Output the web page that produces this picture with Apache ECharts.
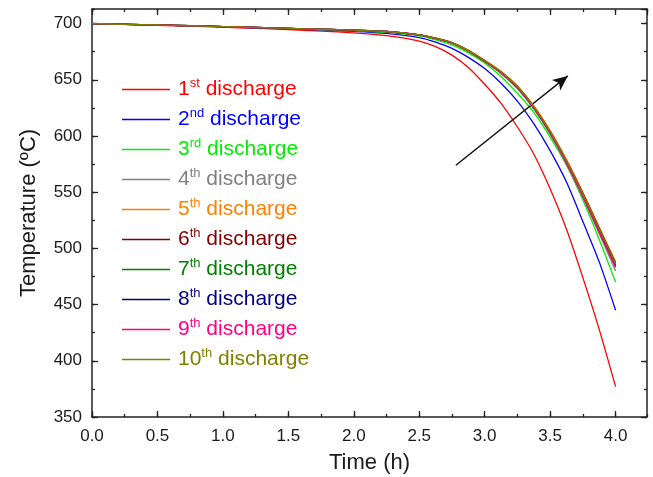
<!DOCTYPE html>
<html>
<head>
<meta charset="utf-8">
<script src="https://cdn.jsdelivr.net/npm/echarts@6/dist/echarts.min.js"></script>
<style>
html,body{margin:0;padding:0;background:#fff;}
#chart{width:653px;height:477px;}
</style>
</head>
<body>
<div id="chart"></div>
<script>
const times = [0,0.25,0.5,0.75,1.0,1.25,1.5,1.75,2.0,2.25,2.5,2.625,2.75,2.875,3.0,3.125,3.25,3.375,3.5,3.625,3.75,3.875,4.0];
const seriesNames = ['1st discharge','2nd discharge','3rd discharge','4th discharge','5th discharge','6th discharge','7th discharge','8th discharge','9th discharge','10th discharge'];
const seriesColors = ['#ff0000','#0000ff','#00ee00','#808080','#ff8000','#800000','#008000','#000080','#ff0080','#808000'];
const d1  = [700,699.3,698.5,697.7,696.8,695.8,694.7,693.4,691.8,689.3,684.5,679.5,672,661,646,629,608,584,553,517,474,428,377];
const d2  = [700,699.4,698.7,698.0,697.2,696.3,695.4,694.4,693.2,691.3,687.5,683.5,678,670,660,647,631,611,587,559,524,488,445];
const d3  = [700,699.4,698.8,698.1,697.3,696.5,695.6,694.7,693.7,692.2,689,685.5,681,674,665,653,638,621,599,574,543,508,470];
const d4  = [700,699.4,698.8,698.1,697.4,696.6,695.8,695.0,694.1,692.8,689.7,686.5,682.5,675.5,666,655.5,642,624,601.5,575,545,513,480];
const d5  = [700,699.4,698.8,698.1,697.4,696.6,695.8,695.0,694.2,693.0,690.1,687.2,683.2,676.5,667.5,657.5,644.5,627,605,579,550,519,488];
const d6  = [700,699.4,698.8,698.1,697.4,696.6,695.8,695.0,694.2,693.0,690,687,683,676,667,657,644,626,604,578,549,518,487];
const d7  = [700,699.4,698.8,698.1,697.4,696.6,695.8,695.0,694.2,693.0,690,686.9,682.8,675.8,666.5,656.5,643.5,625.5,603.5,577,547.5,516,485];
const d8  = [700,699.4,698.8,698.1,697.4,696.6,695.8,695.0,694.2,693.0,689.9,686.8,682.8,675.7,666.5,656.5,643,625,603,576.5,547,515,484];
const d9  = [700,699.4,698.8,698.1,697.4,696.6,695.8,695.0,694.2,693.0,689.9,686.8,682.7,675.6,666.5,656,643,625,603,576,546.5,514.5,483];
const d10 = [700,699.4,698.8,698.1,697.4,696.6,695.8,695.0,694.2,693.0,690,687,683,676,667,657,644,626,604,578,548.5,517.5,486];
const allData = [d1,d2,d3,d4,d5,d6,d7,d8,d9,d10];
const xTicks = {min:0, max:4.24, major:0.5, minor:0.25};
const yTicks = {min:350, max:713, major:50, minor:25};
const arrowFrom = [2.78, 574];
const arrowTo = [3.635, 653.5];

const FONT = '"Liberation Sans", Arial, sans-serif';
const AX = '#222';

function xAx(pos, interval, len, labels, line, extra) {
  return Object.assign({
    type:'value', position:pos, min:xTicks.min, max:xTicks.max, interval:interval,
    axisLine:{show:line, onZero:false, lineStyle:{color:AX, width:1.5}},
    axisTick:{show:true, inside:true, length:len, lineStyle:{color:AX, width:1.3}},
    axisLabel:{show:labels, fontSize:17, color:'#1a1a1a', fontFamily:FONT, margin:11, showMaxLabel:false,
      formatter: v => v.toFixed(1)},
    splitLine:{show:false}
  }, extra||{});
}
function yAx(pos, interval, len, labels, line, extra) {
  return Object.assign({
    type:'value', position:pos, min:yTicks.min, max:yTicks.max, interval:interval,
    axisLine:{show:line, onZero:false, lineStyle:{color:AX, width:1.5}},
    axisTick:{show:true, inside:true, length:len, lineStyle:{color:AX, width:1.3}},
    axisLabel:{show:labels, fontSize:17, color:'#1a1a1a', fontFamily:FONT, margin:10, showMaxLabel:false},
    splitLine:{show:false}
  }, extra||{});
}

const chart = echarts.init(document.getElementById('chart'), null, {renderer:'canvas'});

const series = allData.map((d, i) => {
  const s = {
    name: seriesNames[i], type:'line', xAxisIndex:0, yAxisIndex:0,
    data: times.map((t, k) => [t, d[k]]),
    smooth: 0.25, symbol:'none', showSymbol:false,
    lineStyle:{color:seriesColors[i], width:1.3},
    itemStyle:{color:seriesColors[i]},
    animation:false, z: 2 + i
  };
  if (i === 0) {
    s.markLine = {
      silent:true, animation:false, symbol:['none','arrow'], symbolSize:[10,15],
      lineStyle:{color:'#111', width:1.4, type:'solid'},
      label:{show:false},
      data:[[{coord:arrowFrom},{coord:arrowTo}]]
    };
  }
  return s;
});

chart.setOption({
  backgroundColor:'#fff',
  animation:false,
  grid:{left:92, right:6, top:9, bottom:60, containLabel:false, outerBoundsMode:'none'},
  xAxis:[
    xAx('bottom', xTicks.major, 6, true, true, {name:'Time (h)', nameLocation:'middle', nameGap:35,
      nameTextStyle:{fontSize:22, color:'#1a1a1a', fontFamily:FONT}}),
    xAx('bottom', xTicks.minor, 3, false, false),
    xAx('top', xTicks.major, 6, false, true),
    xAx('top', xTicks.minor, 3, false, false)
  ],
  yAxis:[
    yAx('left', yTicks.major, 6, true, true, {name:'Temperature (ºC)', nameLocation:'middle', nameGap:52,
      nameTextStyle:{fontSize:22, color:'#1a1a1a', fontFamily:FONT}}),
    yAx('left', yTicks.minor, 3, false, false),
    yAx('right', yTicks.major, 6, false, true),
    yAx('right', yTicks.minor, 3, false, false)
  ],
  legend:{
    orient:'vertical', left:122, top:77, padding:0, itemWidth:48, itemHeight:1.5, itemGap:7,
    icon:'rect', selectedMode:false,
    data: seriesNames.map((n, i) => ({name:n, textStyle:{color:seriesColors[i]}, itemStyle:{color:seriesColors[i]}})),
    textStyle:{fontSize:21, fontFamily:FONT, padding:[0,0,0,3],
      rich:{
        n:{fontSize:21, lineHeight:25, fontFamily:FONT},
        s:{fontSize:13, lineHeight:12, verticalAlign:'top', fontFamily:FONT},
        d:{fontSize:21, lineHeight:25, fontFamily:FONT}
      }},
    formatter: name => {
      const m = name.match(/^(\d+)(st|nd|rd|th) (.*)$/);
      return m ? '{n|' + m[1] + '}{s|' + m[2] + '}{d| ' + m[3] + '}' : name;
    }
  },
  series: series
});
</script>
</body>
</html>
